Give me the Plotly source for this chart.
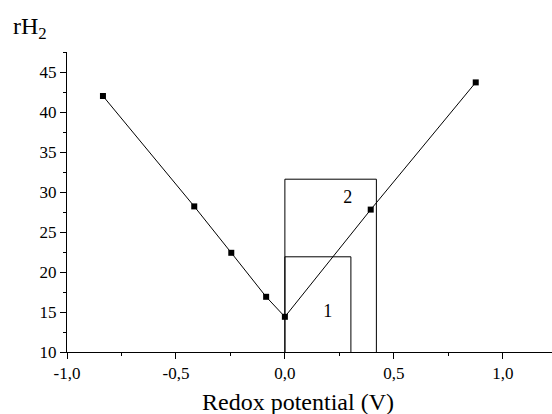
import plotly.graph_objects as go

# Data
redox = [-0.835, -0.416, -0.246, -0.086, 0.0, 0.394, 0.876]
rh2 = [42.0, 28.2, 22.4, 16.9, 14.4, 27.8, 43.7]

# Boxes (ranges on x, top in rH2)
box1_x = [0.0, 0.303]
box1_top = 21.9
box2_x = [0.0, 0.42]
box2_top = 31.6
box_labels = ["1", "2"]
box_label_x = [0.197, 0.288]
box_label_y = [14.9, 29.2]

x_tickvals = [-1.0, -0.5, 0.0, 0.5, 1.0]
x_ticktext = ["-1,0", "-0,5", "0,0", "0,5", "1,0"]
x_minor = [-0.75, -0.25, 0.25, 0.75]
y_tickvals = [10, 15, 20, 25, 30, 35, 40, 45]
y_ticktext = ["10", "15", "20", "25", "30", "35", "40", "45"]
y_minor = [12.5, 17.5, 22.5, 27.5, 32.5, 37.5, 42.5, 47.5]

x_range = [-1.0, 1.226]
y_range = [10, 47.5]

FONT = "Liberation Serif"
y_base = 10

fig = go.Figure()

for bx, top in [(box1_x, box1_top), (box2_x, box2_top)]:
    fig.add_trace(go.Scatter(
        x=[bx[0], bx[0], bx[1], bx[1]],
        y=[y_base, top, top, y_base],
        mode="lines", line=dict(color="black", width=1),
        hoverinfo="skip", showlegend=False, cliponaxis=False))

fig.add_trace(go.Scatter(
    x=redox, y=rh2, mode="lines+markers",
    line=dict(color="black", width=1),
    marker=dict(symbol="square", size=6, color="black"),
    showlegend=False, cliponaxis=False))

fig.add_trace(go.Scatter(
    x=box_label_x, y=box_label_y, mode="text", text=box_labels,
    textfont=dict(family=FONT, size=18, color="black"),
    showlegend=False, hoverinfo="skip"))

# invisible trace to activate the minor-tick overlay axes
fig.add_trace(go.Scatter(x=[x_range[0]], y=[y_range[0]], xaxis="x2", yaxis="y2",
                         mode="markers", marker=dict(opacity=0),
                         showlegend=False, hoverinfo="skip"))

fig.update_layout(
    width=552, height=414,
    margin=dict(l=67, r=0, t=52, b=62),
    paper_bgcolor="white", plot_bgcolor="white",
    font=dict(family=FONT, color="black", size=17),
    xaxis=dict(
        range=x_range, tickmode="array", tickvals=x_tickvals, ticktext=x_ticktext,
        showgrid=False, zeroline=False, showline=True, linecolor="black", linewidth=1,
        ticks="outside", ticklen=6, tickcolor="black",
        tickfont=dict(family=FONT, size=17, color="black"),
    ),
    yaxis=dict(
        range=y_range, tickmode="array", tickvals=y_tickvals, ticktext=y_ticktext,
        showgrid=False, zeroline=False, showline=True, linecolor="black", linewidth=1,
        ticks="outside", ticklen=6, tickcolor="black",
        tickfont=dict(family=FONT, size=17, color="black"),
    ),
    xaxis2=dict(
        range=x_range, overlaying="x", side="bottom", anchor="y",
        tickmode="array", tickvals=x_minor, showticklabels=False,
        showgrid=False, zeroline=False, showline=False,
        ticks="outside", ticklen=3, tickcolor="black",
    ),
    yaxis2=dict(
        range=y_range, overlaying="y", side="left", anchor="x",
        tickmode="array", tickvals=y_minor, showticklabels=False,
        showgrid=False, zeroline=False, showline=False,
        ticks="outside", ticklen=3, tickcolor="black",
    ),
    annotations=[
        dict(text="rH<sub>2</sub>", xref="paper", yref="paper", x=-0.115, y=1.08,
             xanchor="left", yanchor="middle", showarrow=False,
             font=dict(family=FONT, size=24, color="black")),
        dict(text="Redox potential (V)", xref="paper", yref="paper", x=0.476, y=-0.165,
             xanchor="center", yanchor="middle", showarrow=False,
             font=dict(family=FONT, size=24, color="black")),
    ],
)

fig.write_html("out.html")
